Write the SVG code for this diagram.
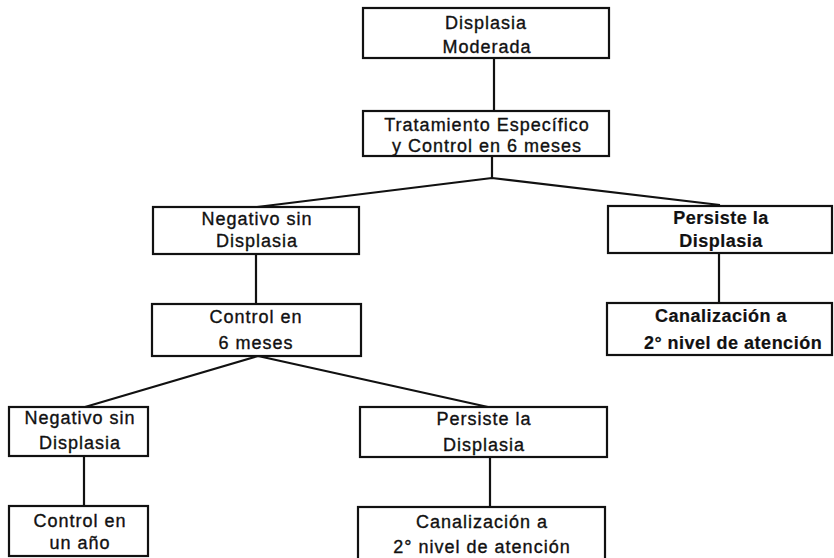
<svg xmlns="http://www.w3.org/2000/svg" width="834" height="558" viewBox="0 0 834 558">
  <style>
    .box rect { fill: #ffffff; stroke: #111111; stroke-width: 2.2; }
    .box text { font-family: "Liberation Sans", Arial, sans-serif; font-size: 18px; letter-spacing: 1px; fill: #111111; stroke: #111111; stroke-width: 0.35; text-anchor: middle; }
    .box.strong text { font-weight: bold; letter-spacing: 0.5px; stroke-width: 0.2; }
    .links path { fill: none; stroke: #111111; stroke-width: 2.2; stroke-linejoin: round; }
  </style>
  <rect width="834" height="558" fill="#ffffff"/>

  <!-- connectors between the boxes -->
  <g class="links">
    <path d="M494 58 V111"/>
    <path d="M492 156 V178"/>
    <path d="M257 207 L492 178 L720 205"/>
    <path d="M256 254 V304"/>
    <path d="M719 253 V303"/>
    <path d="M85 407 L258 356 L488 407"/>
    <path d="M84 456 V506"/>
    <path d="M490 457 V507"/>
  </g>

  <g id="displasia-moderada" class="box">
    <rect x="363" y="8" width="246" height="50"/>
    <text x="486" y="29">Displasia</text>
    <text x="487" y="53">Moderada</text>
  </g>

  <g id="tratamiento" class="box">
    <rect x="363" y="111" width="246" height="45"/>
    <text x="487" y="131">Tratamiento Específico</text>
    <text x="487" y="152">y Control en 6 meses</text>
  </g>

  <g id="negativo-1" class="box">
    <rect x="153" y="207" width="206" height="47"/>
    <text x="257" y="225">Negativo sin</text>
    <text x="257" y="247">Displasia</text>
  </g>

  <g id="persiste-1" class="box strong">
    <rect x="608" y="206" width="224" height="47"/>
    <text x="721" y="224">Persiste la</text>
    <text x="721" y="247">Displasia</text>
  </g>

  <g id="control-6-meses" class="box">
    <rect x="152" y="304" width="209" height="52"/>
    <text x="256" y="323">Control en</text>
    <text x="256" y="349">6 meses</text>
  </g>

  <g id="canalizacion-1" class="box strong">
    <rect x="607" y="303" width="225" height="52"/>
    <text x="721" y="322">Canalización a</text>
    <text x="733" y="349">2° nivel de atención</text>
  </g>

  <g id="negativo-2" class="box">
    <rect x="9" y="407" width="139" height="49"/>
    <text x="80" y="424">Negativo sin</text>
    <text x="80" y="449">Displasia</text>
  </g>

  <g id="persiste-2" class="box">
    <rect x="360" y="407" width="247" height="50"/>
    <text x="484" y="425">Persiste la</text>
    <text x="484" y="451">Displasia</text>
  </g>

  <g id="control-un-ano" class="box">
    <rect x="9" y="506" width="139" height="50"/>
    <text x="80" y="527">Control en</text>
    <text x="80" y="549">un año</text>
  </g>

  <g id="canalizacion-2" class="box">
    <rect x="358" y="507" width="247" height="53"/>
    <text x="482" y="528">Canalización a</text>
    <text x="482" y="553">2° nivel de atención</text>
  </g>
</svg>
